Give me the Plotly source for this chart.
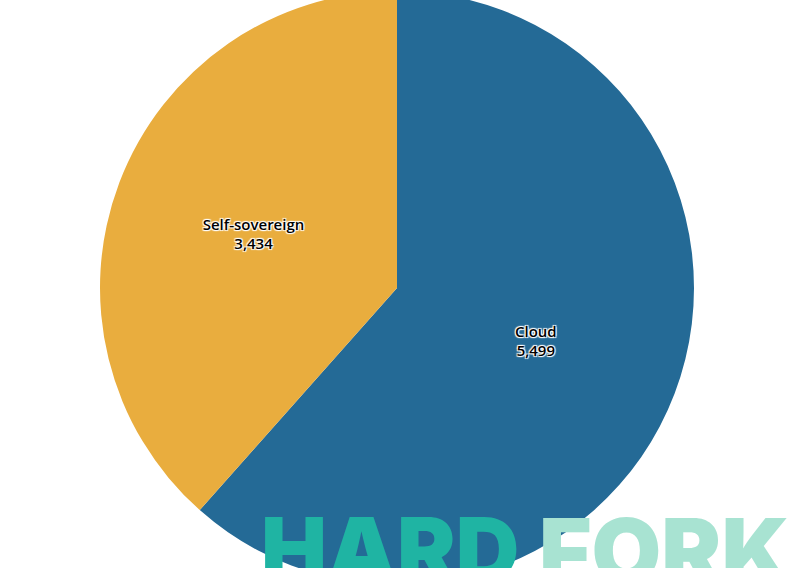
import plotly.graph_objects as go

labels = ["Cloud", "Self-sovereign"]
values = [5499, 3434]
colors = ["#246a96", "#e9ad3e"]
watermark_words = ["HARD", "FORK"]
watermark_colors = ["#1fb4a3", "#a8e3d2"]

W, H = 800, 594
fig = go.Figure(go.Pie(
    labels=labels,
    values=values,
    sort=False,
    direction="clockwise",
    rotation=0,
    marker=dict(colors=colors, line=dict(width=0)),
    texttemplate="%{label}<br>%{value:,}",
    textposition="inside",
    insidetextorientation="horizontal",
    textfont=dict(family="Open Sans", size=15, color="black", weight=600,
                  shadow="1px 1px 1px white, -1px -1px 1px white, 1px -1px 1px white, -1px 1px 1px white"),
    hoverinfo="label+value+percent",
    domain=dict(x=[0, 0.9925], y=[0, 1]),
    showlegend=False,
))

ann_x = [390 / W, 664 / W]
ann_size = [88, 90]
for word, col, xx, sz in zip(watermark_words, watermark_colors, ann_x, ann_size):
    fig.add_annotation(
        text=word, x=xx, y=1 - (494 + 9) / H, xref="paper", yref="paper",
        xanchor="center", yanchor="top", showarrow=False,
        font=dict(family="Inter", size=sz, color=col, weight=900),
    )

fig.update_layout(
    width=W, height=H,
    margin=dict(l=0, r=0, t=0, b=0),
    paper_bgcolor="white",
    plot_bgcolor="white",
)

fig.write_html(
    "out.html",
    config={"displayModeBar": False},
    post_script="document.body.style.margin='0';document.body.style.overflow='hidden';"
                "var d=document.getElementById('{plot_id}');d.style.marginTop='-9px';",
)
